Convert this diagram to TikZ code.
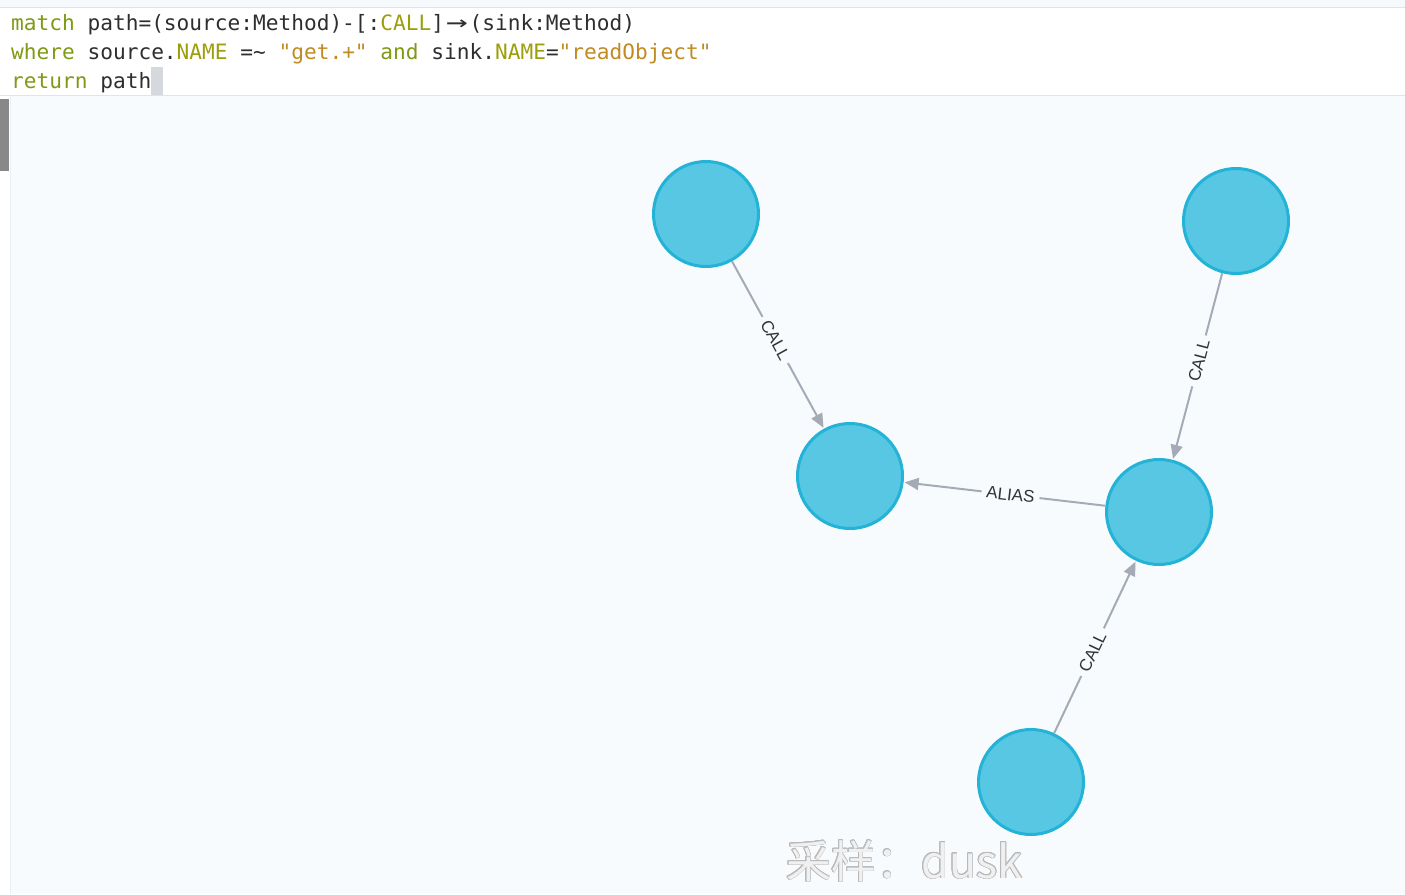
\documentclass[tikz,border=0pt]{standalone}
\usepackage{fontspec}
\setmainfont{Liberation Sans}
\setmonofont{DejaVu Sans Mono}
\newfontfamily\cjkfont{Noto Sans CJK SC}
\usepackage{xcolor}
\usepackage{graphicx}
\usepackage[copies]{contour}
\usetikzlibrary{arrows.meta}

\definecolor{nodefill}{HTML}{57C7E3}
\definecolor{nodeline}{HTML}{23B3D7}
\definecolor{edgeline}{HTML}{A5ABB6}
\definecolor{canvasbg}{HTML}{F8FBFE}
\definecolor{topstrip}{HTML}{F5F9FC}
\definecolor{rulegray}{HTML}{DCE5EE}
\definecolor{kwgreen}{HTML}{7F9A14}
\definecolor{propgreen}{HTML}{9C9E0C}
\definecolor{strorange}{HTML}{C08B22}
\definecolor{codetext}{HTML}{2E2E2E}
\definecolor{cursorgray}{HTML}{D5D8DC}
\definecolor{scrollgray}{HTML}{888888}

\newcommand{\kw}[1]{\textcolor{kwgreen}{#1}}
\newcommand{\prop}[1]{\textcolor{propgreen}{#1}}
\newcommand{\str}[1]{\textcolor{strorange}{#1}}
% two-cell arrow, like the editor's ligature
\newcommand{\ligarrow}{\makebox[1.204em][c]{\scalebox{1.7}[1.15]{→}}}
\contourlength{0.7pt}

\begin{document}
\begin{tikzpicture}[x=1pt, y=-1pt,
    method/.style={circle, draw=nodeline, fill=nodefill, line width=3pt,
      minimum size=105pt, inner sep=0pt},
    rel/.style={draw=edgeline, line width=2pt,
      -{Triangle[length=14pt,width=12pt]}, shorten >=1pt},
    rellabel/.style={sloped, pos=0.47, fill=canvasbg, inner xsep=5pt,
      inner ysep=1pt, text=black!80, font=\fontsize{17}{17}\selectfont},
    codeline/.style={anchor=base west, inner sep=0pt, text=codetext,
      font=\ttfamily\fontsize{21.15}{21.15}\selectfont}]
  \useasboundingbox (0,0) rectangle (1405,894);

  % Editor panel and canvas
  \fill[topstrip] (0,0) rectangle (1405,8);
  \fill[white] (0,8) rectangle (1405,95);
  \draw[rulegray, line width=1pt] (0,7.5) -- (1405,7.5);
  \draw[rulegray, line width=1pt] (0,95.5) -- (1405,95.5);
  \fill[canvasbg] (10,96) rectangle (1405,894);
  \draw[rulegray!60, line width=1pt] (10,96) -- (10,894);
  \fill[scrollgray] (0,99) rectangle (9,171);
  \fill[cursorgray] (151,67) rectangle (163,95);

  % Query text
  \node[codeline] (qMatch) at (11,30)
    {\kw{match} path=(source:Method)-[:\prop{CALL}]\ligarrow(sink:Method)};
  \node[codeline] (qWhere) at (11,59)
    {\kw{where} source.\prop{NAME} =\string~ \str{"get.+"} \kw{and} sink.\prop{NAME}=\str{"readObject"}};
  \node[codeline] (qReturn) at (11,88) {\kw{return} path};

  % Method nodes
  \node[method] (callerTop) at (706,214) {};
  \node[method] (sinkRead) at (850,476) {};
  \node[method] (callerRight) at (1236,221) {};
  \node[method] (aliasMid) at (1159,512) {};
  \node[method] (callerBottom) at (1031,782) {};

  % Relationships
  \draw[rel] (callerTop) -- node[rellabel] {CALL} (sinkRead);
  \draw[rel] (callerRight) -- node[rellabel] {CALL} (aliasMid);
  \draw[rel] (aliasMid) -- node[rellabel] {ALIAS} (sinkRead);
  \draw[rel] (callerBottom) -- node[rellabel] {CALL} (aliasMid);

  % Watermark
  \node[anchor=base west, inner sep=0pt, font=\cjkfont\fontsize{45}{45}\selectfont]
    (mark) at (786,878) {\contour{gray!55}{\textcolor{gray!12}{采样：dusk}}};
\end{tikzpicture}
\end{document}
